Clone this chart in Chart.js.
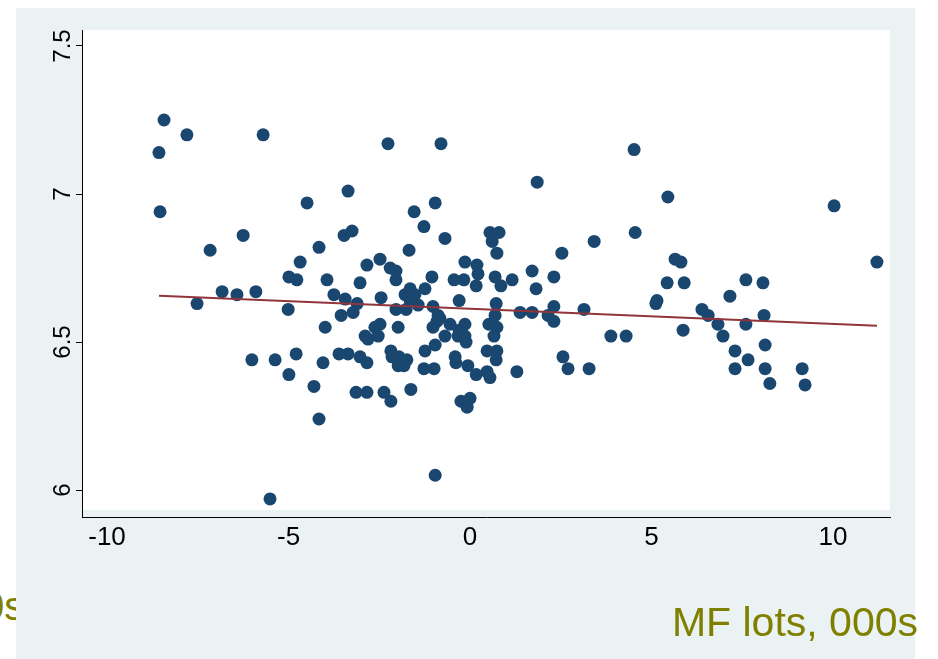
<!DOCTYPE html>
<html>
<head>
<meta charset="utf-8">
<script src="https://cdn.jsdelivr.net/npm/chart.js@4.4.1/dist/chart.umd.min.js"></script>
<style>
  body { margin: 0; background: #fff; }
  #wrap { position: relative; width: 938px; height: 659px; overflow: hidden; }
  #slide { position: absolute; left: 16px; top: 8px; width: 899px; height: 651px; background: #eaf2f3; z-index: 1; }
  #stub { position: absolute; left: -18px; top: 584px; font: 40px 'Liberation Sans', Arial, sans-serif; color: #808000; z-index: 0; white-space: nowrap; }
  #xtitle { position: absolute; right: 20px; top: 599px; font: 41px 'Liberation Sans', Arial, sans-serif; color: #808000; z-index: 3; white-space: nowrap; }
  canvas { position: absolute; left: 0; top: 0; z-index: 2; }
</style>
</head>
<body>
<div id="wrap">
  <span id="stub">0s</span>
  <div id="slide"></div>
  <canvas id="scatter" width="938" height="659"></canvas>
  <span id="xtitle">MF lots, 000s</span>
</div>
<script>
// values
const xVals = [
  -8.43, -7.80, -8.57, -5.70, -8.54, -4.49, -6.25, -7.16, -4.16, -4.68,
  -4.99, -4.77, -3.94, -6.83, -6.42, -5.90, -7.52, -5.01, -3.99, -4.79,
  -5.37, -6.01, -4.05, -4.99, -4.30, -4.16, -5.51,
  -2.26, -0.80, 1.85, -3.36, -0.96, -1.54, -1.27, -3.47, -3.25, -0.69,
  -1.68, 0.55, 0.80, 0.61, 0.74, 2.53, -0.14, -2.48, -2.84, -2.20,
  -2.04, -2.04, 0.19, 0.22, -3.03, -1.05, -1.24, -0.44, -0.17, 0.17,
  0.69, 0.85, 1.16, 1.71, 1.82, 2.31, -3.75, -3.44, -3.11, -3.22,
  -2.45, -1.79, -1.65, -1.52, -1.65, -1.43, -2.04, -1.76, -1.02, -0.88,
  -0.91, -3.55, -2.48, -2.62, -1.98, -1.02, -0.30, 0.72, -0.83, -0.55,
  -0.14, -0.30, 0.69, 0.52, 0.74, 1.38, 1.71, 2.31, 2.15, 2.31,
  -0.69, -2.89, -2.81, -2.53, -3.61, -3.36, -3.03, -2.84, -2.18, -2.15,
  -1.96, -1.74, -1.98, -1.82, -1.24, -0.96, -1.27, -0.99, -3.14, -2.84,
  -2.37, -2.18, -1.63, -0.33, -0.14, -0.11, 0.66, 0.47, 0.74, 0.72,
  -0.41, -0.39, -0.06, 0.17, 0.47, 0.55, 1.29, 2.56, 2.70, -0.25,
  0.00, -0.08, -0.96,
  4.52, 5.45, 10.03, 4.55, 3.42, 5.65, 5.81, 11.21, 5.43, 5.90,
  7.60, 8.07, 7.16, 5.15, 5.12, 3.14, 6.39, 6.56, 8.10, 6.83,
  7.60, 5.87, 3.88, 4.30, 6.97, 7.30, 8.13, 7.66, 3.28, 7.30,
  8.13, 9.15, 8.26, 9.23
];
const yVals = [
  7.25, 7.20, 7.14, 7.20, 6.94, 6.97, 6.86, 6.81, 6.82, 6.77,
  6.72, 6.71, 6.71, 6.67, 6.66, 6.67, 6.63, 6.61, 6.55, 6.46,
  6.44, 6.44, 6.43, 6.39, 6.35, 6.24, 5.97,
  7.17, 7.17, 7.04, 7.01, 6.97, 6.94, 6.89, 6.86, 6.875, 6.85,
  6.81, 6.87, 6.87, 6.84, 6.80, 6.80, 6.77, 6.78, 6.76, 6.75,
  6.74, 6.71, 6.76, 6.73, 6.70, 6.72, 6.68, 6.71, 6.71, 6.69,
  6.72, 6.69, 6.71, 6.74, 6.68, 6.72, 6.66, 6.645, 6.63, 6.60,
  6.65, 6.66, 6.68, 6.66, 6.64, 6.625, 6.61, 6.61, 6.62, 6.59,
  6.57, 6.59, 6.56, 6.55, 6.55, 6.55, 6.64, 6.63, 6.58, 6.56,
  6.56, 6.54, 6.59, 6.56, 6.55, 6.60, 6.60, 6.62, 6.59, 6.57,
  6.52, 6.52, 6.51, 6.52, 6.46, 6.46, 6.45, 6.43, 6.47, 6.45,
  6.45, 6.44, 6.42, 6.42, 6.47, 6.49, 6.41, 6.41, 6.33, 6.33,
  6.33, 6.30, 6.34, 6.52, 6.52, 6.50, 6.52, 6.47, 6.47, 6.44,
  6.45, 6.43, 6.42, 6.39, 6.40, 6.38, 6.40, 6.45, 6.41, 6.30,
  6.31, 6.28, 6.05,
  7.15, 6.99, 6.96, 6.87, 6.84, 6.78, 6.77, 6.77, 6.70, 6.70,
  6.71, 6.70, 6.655, 6.64, 6.63, 6.61, 6.61, 6.59, 6.59, 6.56,
  6.56, 6.54, 6.52, 6.52, 6.52, 6.47, 6.49, 6.44, 6.41, 6.41,
  6.41, 6.41, 6.36, 6.355
];

// fitted line ends
const fitX = [-8.57, 11.21];
const fitY = [6.656, 6.555];

const xTicks = [-10, -5, 0, 5, 10];
const yTicks = [6, 6.5, 7, 7.5];

const fontFam = "'Liberation Sans', Arial, sans-serif";

// white plot region, stops a little above the x axis line
const plotBg = {
  id: 'plotBg',
  beforeDraw(chart) {
    const { ctx, chartArea: a } = chart;
    ctx.save();
    ctx.fillStyle = '#ffffff';
    ctx.fillRect(a.left, a.top, a.right - a.left, a.bottom - a.top - 7);
    ctx.restore();
  }
};

const dots = xVals.map((x, i) => ({ x: x, y: yVals[i] }));
const fitLine = fitX.map((x, i) => ({ x: x, y: fitY[i] }));

new Chart(document.getElementById('scatter'), {
  type: 'scatter',
  data: {
    datasets: [
      {
        type: 'line',
        data: fitLine,
        borderColor: '#90353b',
        borderWidth: 2,
        pointRadius: 0,
        fill: false
      },
      {
        data: dots,
        backgroundColor: '#1a476f',
        borderWidth: 0,
        pointRadius: 6.5
      }
    ]
  },
  options: {
    responsive: false,
    animation: false,
    layout: { padding: { left: 0, top: 30, right: 48, bottom: 0 } },
    plugins: {
      legend: { display: false },
      tooltip: { enabled: false }
    },
    scales: {
      x: {
        type: 'linear',
        min: -10.69,
        max: 11.57,
        afterBuildTicks: s => { s.ticks = xTicks.map(v => ({ value: v })); },
        afterFit: s => { s.height = 142; },
        grid: { drawOnChartArea: false, drawTicks: false },
        border: { display: true, color: '#000', width: 1 },
        ticks: { color: '#000', font: { family: fontFam, size: 26 }, padding: 5, maxRotation: 0 }
      },
      y: {
        min: 5.909,
        max: 7.554,
        afterBuildTicks: s => { s.ticks = yTicks.map(v => ({ value: v })); },
        afterFit: s => { s.width = 82; },
        grid: { drawOnChartArea: false, drawTicks: true, tickLength: 6, color: '#000' },
        border: { display: true, color: '#000', width: 1 },
        ticks: {
          color: '#000',
          font: { family: fontFam, size: 24 },
          padding: -4,
          crossAlign: 'center',
          minRotation: 90,
          maxRotation: 90,
          callback: v => String(v)
        }
      }
    }
  },
  plugins: [plotBg]
});
</script>
</body>
</html>
